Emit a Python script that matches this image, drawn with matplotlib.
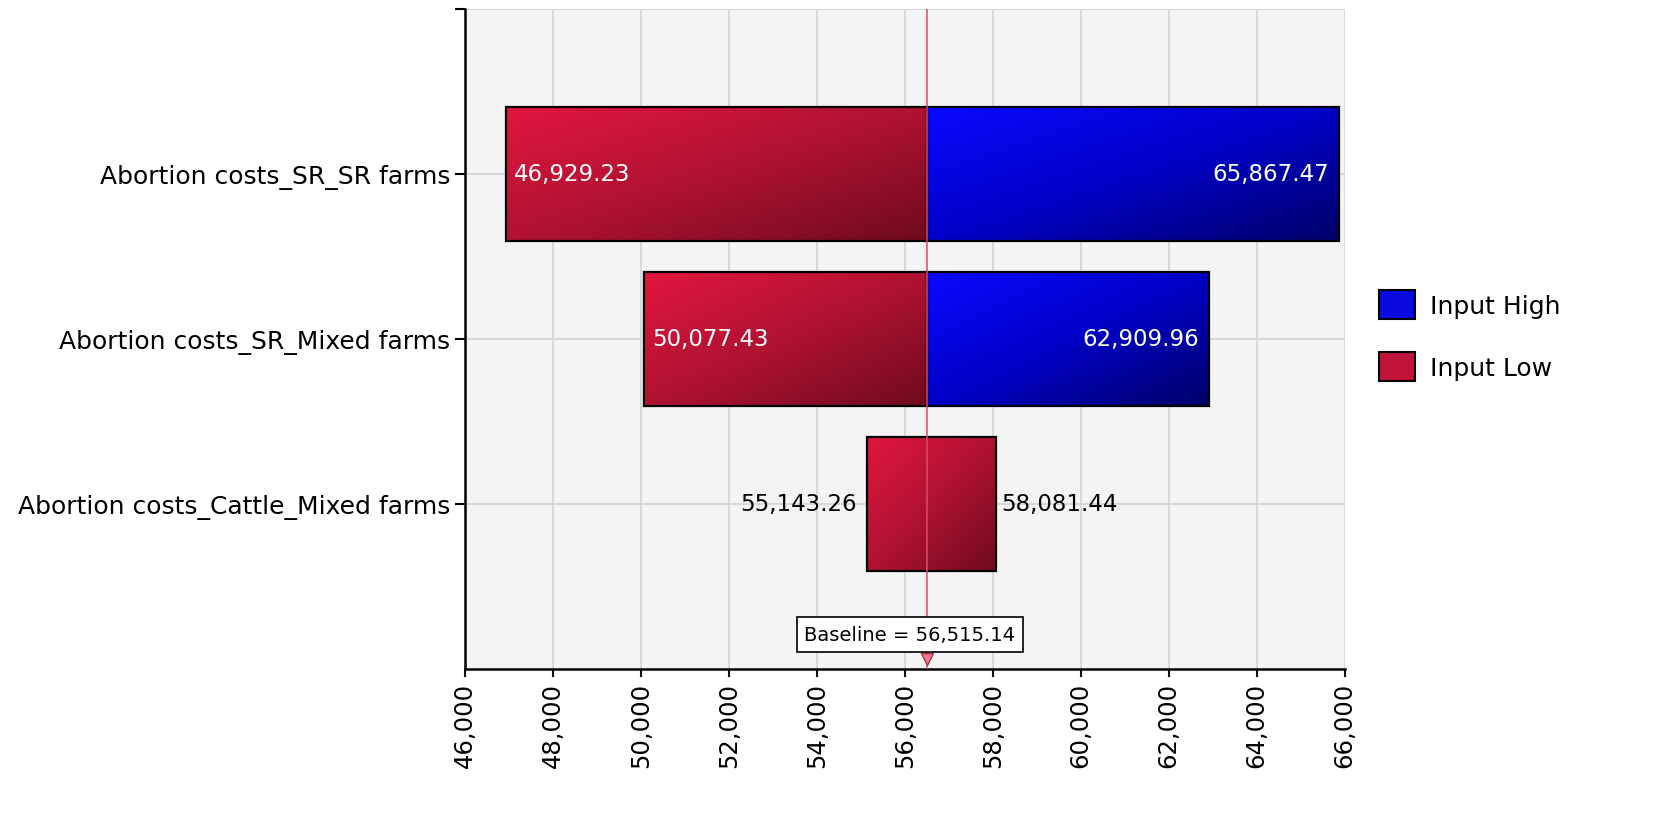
import numpy as np
import matplotlib
matplotlib.use("Agg")
import matplotlib.pyplot as plt
from matplotlib.colors import LinearSegmentedColormap
from matplotlib.patches import Rectangle, Patch
from matplotlib.ticker import FuncFormatter

# data
categories = ["Abortion costs_SR_SR farms",
              "Abortion costs_SR_Mixed farms",
              "Abortion costs_Cattle_Mixed farms"]
left_vals = [46929.23, 50077.43, 55143.26]
right_vals = [65867.47, 62909.96, 58081.44]
right_input = ["High", "High", "Low"]   # which input gives the right-hand value
baseline = 56515.14
xticks = list(range(46000, 66001, 2000))

red_cm = LinearSegmentedColormap.from_list("r", ["#e2163e", "#b01232", "#6e0b1e"])
blue_cm = LinearSegmentedColormap.from_list("b", ["#0a0aff", "#0000c8", "#000068"])
cmaps = {"Low": red_cm, "High": blue_cm}

fig = plt.figure(figsize=(16.54, 8.37), dpi=100)
ax = fig.add_axes([0.281, 0.1995, 0.532, 0.789])
ax.set_facecolor("#f4f4f4")

# diagonal gradient, bright top-left -> dark bottom-right
gx, gy = np.meshgrid(np.linspace(0, 1, 200), np.linspace(0, 1, 200))
grad = (gx + gy) / 2

h = 0.81
for i in range(len(categories)):
    y0, y1 = i - h / 2, i + h / 2
    segs = []
    if right_input[i] == "Low":
        segs.append((left_vals[i], right_vals[i], "Low"))
    else:
        segs.append((left_vals[i], baseline, "Low"))
        segs.append((baseline, right_vals[i], "High"))
    for a, b, key in segs:
        ax.imshow(grad, cmap=cmaps[key], extent=[a, b, y1, y0], aspect="auto",
                  interpolation="bilinear", zorder=2)
        ax.add_patch(Rectangle((a, y0), b - a, h, fill=False, ec="black", lw=1.6, zorder=3))

    lab_l = f"{left_vals[i]:,.2f}"
    lab_r = f"{right_vals[i]:,.2f}"
    if right_input[i] == "High":
        ax.text(left_vals[i] + 180, i, lab_l, color="white", fontsize=16.5,
                ha="left", va="center", zorder=4)
        ax.text(right_vals[i] - 220, i, lab_r, color="white", fontsize=16.5,
                ha="right", va="center", zorder=4)
    else:
        ax.text(left_vals[i] - 230, i, lab_l, color="black", fontsize=16.5,
                ha="right", va="center", zorder=4)
        ax.text(right_vals[i] + 110, i, lab_r, color="black", fontsize=16.5,
                ha="left", va="center", zorder=4)

ax.axvline(baseline, color="#e04a64", lw=1.1, zorder=3.5)
ax.plot([baseline], [2.94], marker="v", ms=9, color="#f07890", mec="#b03048",
        zorder=5, clip_on=False)
ax.text(baseline - 400, 2.79, f"Baseline = {baseline:,.2f}", fontsize=14,
        ha="center", va="center", zorder=5,
        bbox=dict(boxstyle="square,pad=0.4", fc="white", ec="black", lw=1.2))

ax.set_xlim(46000, 66000)
ax.set_ylim(3, -1)
ax.set_xticks(xticks)
ax.xaxis.set_major_formatter(FuncFormatter(lambda v, p: f"{v:,.0f}"))
ax.tick_params(axis="x", labelrotation=90, labelsize=17.5, length=6, width=1.5)
ax.set_yticks([-1, 0, 1, 2])
ax.set_yticklabels([""] + categories, fontsize=18)
ax.tick_params(axis="y", length=7, width=1.5)
ax.grid(True, color="#d6d6d6", lw=1.3, zorder=0)
ax.set_axisbelow(True)
for s in ["top", "right"]:
    ax.spines[s].set_visible(False)
for s in ["left", "bottom"]:
    ax.spines[s].set_linewidth(1.8)

handles = [Patch(fc="#0a0ae0", ec="black", lw=1.5, label="Input High"),
           Patch(fc="#c0143a", ec="black", lw=1.5, label="Input Low")]
fig.legend(handles=handles, loc="center left", bbox_to_anchor=(0.82, 0.598),
           frameon=False, fontsize=18, handlelength=1.45, handleheight=1.45,
           labelspacing=1.3, handletextpad=0.6)

fig.savefig("out.png", dpi=100)
